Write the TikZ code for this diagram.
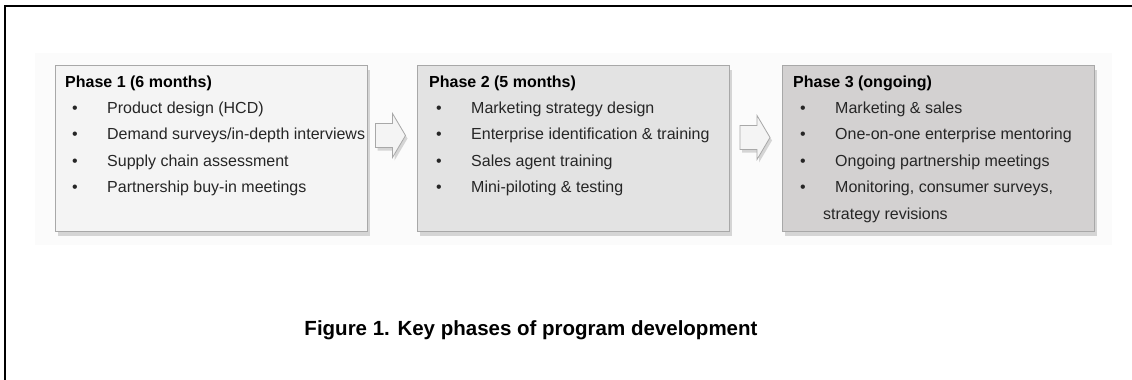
\documentclass[tikz,border=0pt]{standalone}
\usepackage{fontspec}
\setmainfont{Liberation Sans}
\usetikzlibrary{shadows,calc}
\definecolor{phaseone}{HTML}{F4F4F4}
\definecolor{phasetwo}{HTML}{E3E3E3}
\definecolor{phasethree}{HTML}{D3D1D1}
\definecolor{boxline}{HTML}{A8A8A8}
\newcommand{\phaseitem}[1]{\makebox[42pt][l]{\hspace{7pt}\textbullet}#1}

\begin{document}
\begin{tikzpicture}[x=1pt,y=-1pt,
  phasebox/.style={rectangle,draw=boxline,line width=1pt,anchor=north west,inner sep=0pt,
    minimum width=312pt,minimum height=166pt,
    drop shadow={shadow xshift=2pt,shadow yshift=-4pt,opacity=0.3}},
  headtext/.style={anchor=base west,inner sep=0pt,font=\fontsize{16}{18}\selectfont\bfseries},
  itemtext/.style={anchor=base west,inner sep=0pt,font=\fontsize{16}{18}\selectfont,text=black!85},
  blockarrow/.style={draw=boxline,fill=phaseone,line width=0.8pt,
    drop shadow={shadow xshift=2pt,shadow yshift=-3pt,opacity=0.3}},
  pics/phasearrow/.style={code={
    \path[blockarrow] (-15,-12) -- (2,-12) -- (2,-22) -- (15,0) -- (2,22) -- (2,12) -- (-15,12) -- cycle;}}]
\useasboundingbox (0,0) rectangle (1132,380);
\draw[line width=2pt] (5,380) -- (5,6) -- (1132,6);
\fill[black!1.5] (35,53) rectangle (1112,245);

\path (55,65) node[phasebox,fill=phaseone] (P1) {};
\path (417,65) node[phasebox,fill=phasetwo] (P2) {};
\path (782,65) node[phasebox,fill=phasethree] (P3) {};

\path (P1.north west) ++(10,22) node[headtext] (P1h) {Phase 1 (6 months)};
\foreach \t [count=\i] in {Product design (HCD),Demand surveys/in-depth interviews,
    Supply chain assessment,Partnership buy-in meetings}
  \path (P1.north west) ++(10,22+26.4*\i) node[itemtext] (P1i\i) {\phaseitem{\t}};

\path (P2.north west) ++(12,22) node[headtext] (P2h) {Phase 2 (5 months)};
\foreach \t [count=\i] in {Marketing strategy design,Enterprise identification \& training,
    Sales agent training,Mini-piloting \& testing}
  \path (P2.north west) ++(12,22+26.4*\i) node[itemtext] (P2i\i) {\phaseitem{\t}};

\path (P3.north west) ++(11,22) node[headtext] (P3h) {Phase 3 (ongoing)};
\foreach \t [count=\i] in {Marketing \& sales,One-on-one enterprise mentoring,
    Ongoing partnership meetings,{Monitoring, consumer surveys,}}
  \path (P3.north west) ++(11,22+26.4*\i) node[itemtext] (P3i\i) {\phaseitem{\t}};
\path (P3.north west) ++(41,22+26.4*5) node[itemtext] (P3i5) {strategy revisions};

\coordinate (A12) at ($(P1.east)!0.5!(P2.west)+(-2,-13)$);
\coordinate (A23) at ($(P2.east)!0.5!(P3.west)+(-1,-11)$);
\pic at (A12) {phasearrow};
\pic at (A23) {phasearrow};

\path (531,330) node[font=\fontsize{20.5}{22}\selectfont\bfseries] (cap) {Figure 1. Key phases of program development};
\end{tikzpicture}
\end{document}
